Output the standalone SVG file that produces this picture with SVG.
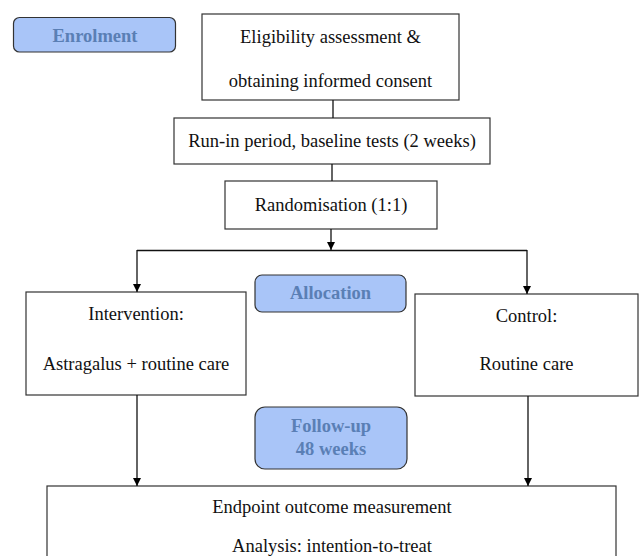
<svg xmlns="http://www.w3.org/2000/svg" width="639" height="556" viewBox="0 0 639 556">
<defs>
<marker id="arr" viewBox="0 0 8 10" refX="8" refY="5" markerWidth="8" markerHeight="10" markerUnits="userSpaceOnUse" orient="auto">
<path d="M0,1 L8,5 L0,9 z" fill="#000"/>
</marker>
</defs>
<style>
.box{fill:#fff;stroke:#333;stroke-width:1.2}
.stage{fill:#a9c5f8;stroke:#333;stroke-width:1.2}
.t{font-family:"Liberation Serif","Times New Roman",serif;font-size:18.5px;fill:#111;text-anchor:middle}
.s{font-family:"Liberation Serif","Times New Roman",serif;font-size:18.5px;font-weight:bold;fill:#5a7fb5;text-anchor:middle}
.c{fill:none;stroke:#111;stroke-width:1.3}
</style>
<rect width="639" height="556" fill="#fff"/>
<g id="enrolment">
<rect class="stage" x="13.5" y="17.5" width="162" height="34.5" rx="6"/>
<text class="s" x="95" y="42">Enrolment</text>
</g>
<g id="eligibility">
<rect class="box" x="202" y="14" width="257" height="86"/>
<text class="t" x="330.5" y="43">Eligibility assessment &amp;</text>
<text class="t" x="330.5" y="87">obtaining informed consent</text>
</g>
<g id="runin">
<rect class="box" x="174" y="118" width="316" height="46"/>
<text class="t" x="332" y="147">Run-in period, baseline tests (2 weeks)</text>
</g>
<g id="randomisation">
<rect class="box" x="225" y="181" width="212" height="48"/>
<text class="t" x="331" y="211">Randomisation (1:1)</text>
</g>
<g id="allocation">
<rect class="stage" x="255" y="275" width="151" height="37" rx="7"/>
<text class="s" x="330.5" y="299">Allocation</text>
</g>
<g id="intervention">
<rect class="box" x="26" y="292" width="220" height="103"/>
<text class="t" x="136" y="320">Intervention:</text>
<text class="t" x="136" y="370">Astragalus + routine care</text>
</g>
<g id="control">
<rect class="box" x="415" y="294" width="223" height="102"/>
<text class="t" x="526.5" y="322">Control:</text>
<text class="t" x="526.5" y="370">Routine care</text>
</g>
<g id="followup">
<rect class="stage" x="255" y="407" width="152" height="62" rx="10"/>
<text class="s" x="331" y="432">Follow-up</text>
<text class="s" x="331" y="455">48 weeks</text>
</g>
<g id="endpoint">
<rect class="box" x="47" y="486" width="569" height="90"/>
<text class="t" x="332" y="513">Endpoint outcome measurement</text>
<text class="t" x="332" y="552">Analysis: intention-to-treat</text>
</g>
<g id="connectors">
<line class="c" x1="333" y1="100" x2="333" y2="118"/>
<line class="c" x1="332" y1="164" x2="332" y2="181"/>
<line class="c" x1="331" y1="229" x2="331" y2="250" marker-end="url(#arr)"/>
<line class="c" x1="137" y1="250.5" x2="527" y2="250.5"/>
<line class="c" x1="137" y1="250" x2="137" y2="292" marker-end="url(#arr)"/>
<line class="c" x1="527" y1="250" x2="527" y2="294" marker-end="url(#arr)"/>
<line class="c" x1="137" y1="395" x2="137" y2="486" marker-end="url(#arr)"/>
<line class="c" x1="528" y1="396" x2="528" y2="486" marker-end="url(#arr)"/>
</g>
</svg>
